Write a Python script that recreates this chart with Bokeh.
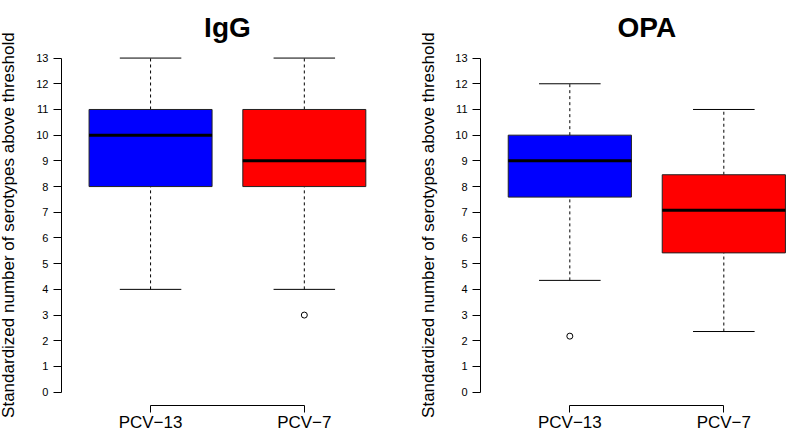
import numpy as np
from bokeh.plotting import figure
from bokeh.layouts import row
from bokeh.models import Range1d, FixedTicker, Label
from bokeh.embed import file_html
from bokeh.resources import INLINE

# ---- data ----
categories = ["PCV\u221213", "PCV\u22127"]
positions = [1, 2]
box_colors = ["#0000FF", "#FF0000"]
y_ticks = [0, 1, 2, 3, 4, 5, 6, 7, 8, 9, 10, 11, 12, 13]

igg_low = [4, 4]
igg_q1 = [8, 8]
igg_med = [10, 9]
igg_q3 = [11, 11]
igg_high = [13, 13]
igg_out_x = [2]
igg_out_y = [3]

opa_low = [4.35, 2.36]
opa_q1 = [7.59, 5.42]
opa_med = [9.0, 7.08]
opa_q3 = [10.0, 8.46]
opa_high = [12, 11]
opa_out_x = [1]
opa_out_y = [2.18]

YLABEL = "Standardized number of serotypes above threshold"
FONT = "Liberation Sans"
BOX_W = 0.8
CAP_W = 0.4
AXIS_X = 0.42            # where the value axis sits (left edge of the R-style plot region)
AXIS_Y = -0.52           # where the category axis sits (bottom edge of the R-style plot region)
TITLE_BASELINE = 14.18   # title baseline, in axis units above the plotted area


def make_panel(title, low, q1, med, q3, high, out_x, out_y, x_start, x_end, ylabel_x):
    p = figure(width=395, height=434, output_backend="svg", toolbar_location=None,
               x_range=Range1d(x_start, x_end), y_range=Range1d(-1.647, 15.24),
               min_border_left=0, min_border_right=2,
               min_border_top=0, min_border_bottom=0)
    p.outline_line_color = None
    p.grid.visible = False
    p.background_fill_color = "white"
    p.border_fill_color = "white"

    # panel title, centred over the two groups
    p.add_layout(Label(x=float(np.mean(positions)), y=TITLE_BASELINE,
                       text=title, text_align="center", text_baseline="alphabetic",
                       text_font=FONT, text_font_size="28px", text_font_style="bold",
                       text_color="black"))
    # value-axis title, centred on the 0..13 axis
    p.add_layout(Label(x=ylabel_x, y=(y_ticks[0] + y_ticks[-1]) / 2, angle=np.pi / 2,
                       text=YLABEL, text_align="center", text_baseline="middle",
                       text_font=FONT, text_font_size="17px", text_color="black"))

    pos = np.array(positions, dtype=float)
    # whiskers
    p.segment(x0=pos, y0=q3, x1=pos, y1=high, line_color="black", line_width=1, line_dash="3 3")
    p.segment(x0=pos, y0=low, x1=pos, y1=q1, line_color="black", line_width=1, line_dash="3 3")
    # caps
    p.segment(x0=pos - CAP_W / 2, y0=high, x1=pos + CAP_W / 2, y1=high, line_color="black", line_width=1)
    p.segment(x0=pos - CAP_W / 2, y0=low, x1=pos + CAP_W / 2, y1=low, line_color="black", line_width=1)
    # boxes
    p.vbar(x=pos, width=BOX_W, bottom=q1, top=q3, fill_color=box_colors,
           line_color="#222222", line_width=1)
    # medians
    p.segment(x0=pos - BOX_W / 2, y0=med, x1=pos + BOX_W / 2, y1=med, line_color="black", line_width=3)
    # outliers
    p.scatter(x=out_x, y=out_y, marker="circle", size=6, fill_color=None,
              line_color="black", line_width=1)

    # x axis
    xa = p.xaxis[0]
    xa.fixed_location = AXIS_Y
    xa.ticker = FixedTicker(ticks=positions)
    xa.major_label_overrides = {pv: c for pv, c in zip(positions, categories)}
    xa.bounds = (positions[0], positions[-1])
    xa.minor_tick_line_color = None
    xa.major_tick_in = 0
    xa.major_tick_out = 7
    xa.major_label_standoff = 0
    xa.major_label_text_font = FONT
    xa.major_label_text_font_size = "17px"
    xa.major_label_text_color = "black"
    xa.axis_line_color = "black"
    xa.major_tick_line_color = "black"

    # y axis
    ya = p.yaxis[0]
    ya.fixed_location = AXIS_X
    ya.ticker = FixedTicker(ticks=y_ticks)
    ya.bounds = (y_ticks[0], y_ticks[-1])
    ya.minor_tick_line_color = None
    ya.major_tick_in = 0
    ya.major_tick_out = 8
    ya.major_label_standoff = 5
    ya.major_label_text_font = FONT
    ya.major_label_text_font_size = "11px"
    ya.major_label_text_color = "black"
    ya.axis_line_color = "black"
    ya.major_tick_line_color = "black"
    return p


p1 = make_panel("IgG", igg_low, igg_q1, igg_med, igg_q3, igg_high, igg_out_x, igg_out_y,
                x_start=0.024, x_end=2.58, ylabel_x=0.076)
p2 = make_panel("OPA", opa_low, opa_q1, opa_med, opa_q3, opa_high, opa_out_x, opa_out_y,
                x_start=-0.132, x_end=2.42, ylabel_x=0.082)

layout = row(p1, p2)
open("out.html", "w").write(file_html(layout, INLINE))
